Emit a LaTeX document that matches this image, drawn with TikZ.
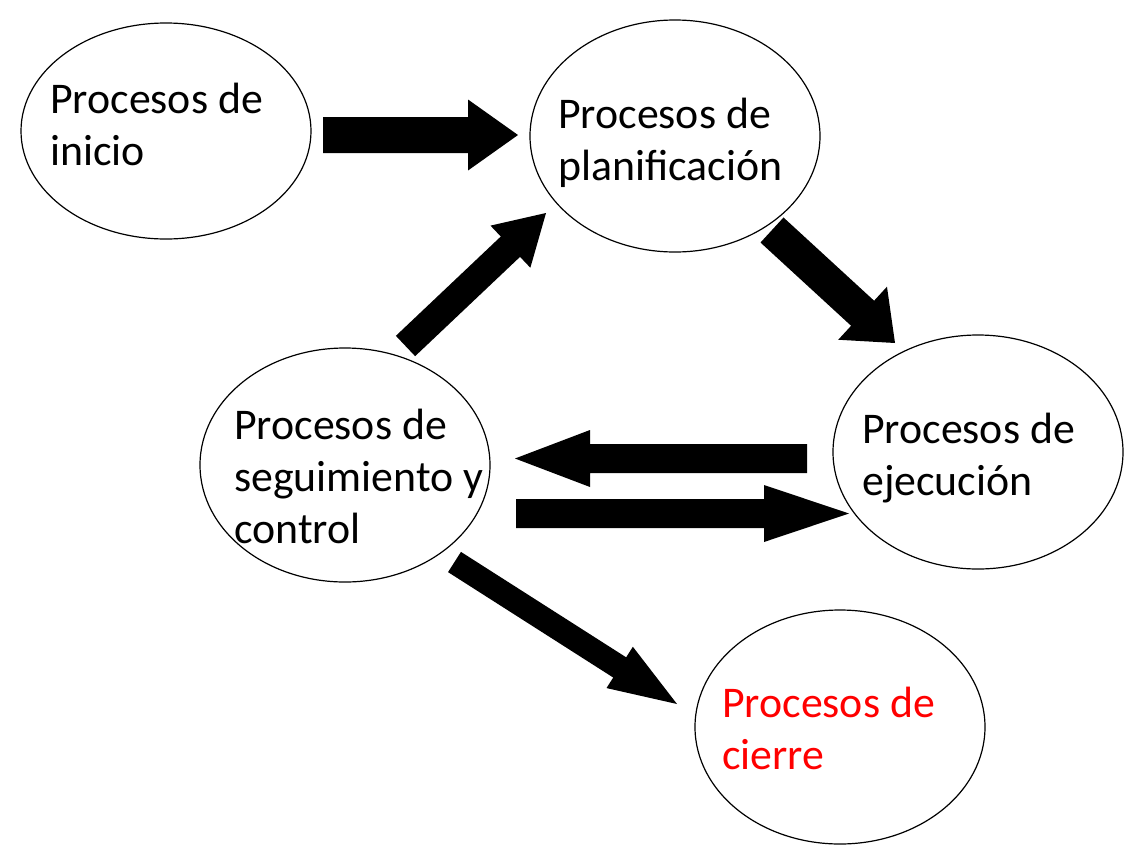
\documentclass[tikz,border=0pt]{standalone}
\usepackage{fontspec}
\setmainfont{Carlito}
\usetikzlibrary{calc}
\tikzset{
  proc/.style={draw=black, line width=1.3pt, ellipse, inner sep=0pt},
  lbl/.style={anchor=base west, inner sep=0pt, font=\fontsize{43.8}{52}\selectfont},
  blk/.style={fill=black, draw=none}
}
\newcommand\blockarr[5]{% tail, tip, half shaft, half head, head length
  \coordinate (#1-#2-b) at ($(#2)!#5!(#1)$);
  \fill[blk] ($(#1)!#3!90:(#2)$) -- ($(#1-#2-b)!#3!-90:(#1)$) -- ($(#1-#2-b)!#4!-90:(#1)$)
    -- (#2) -- ($(#1-#2-b)!#4!90:(#1)$) -- ($(#1-#2-b)!#3!90:(#1)$) -- ($(#1)!#3!-90:(#2)$) -- cycle;
}
\begin{document}
\begin{tikzpicture}[x=1pt,y=-1pt]
\useasboundingbox (0,0) rectangle (1144,860);
\fill[white] (0,0) rectangle (1144,860);
% ellipses
\draw[line width=1.2pt] (166,131) ellipse [x radius=145, y radius=108];
\node[inner sep=0pt] (ini) at (166,131) {};
\draw[line width=1.2pt] (675,136) ellipse [x radius=145, y radius=116];
\node[inner sep=0pt] (pla) at (675,136) {};
\draw[line width=1.2pt] (978,452) ellipse [x radius=145, y radius=117];
\node[inner sep=0pt] (eje) at (978,452) {};
\draw[line width=1.2pt] (345,465) ellipse [x radius=145, y radius=117];
\node[inner sep=0pt] (seg) at (345,465) {};
\draw[line width=1.2pt] (840,727) ellipse [x radius=145, y radius=117];
\node[inner sep=0pt] (cie) at (840,727) {};
% texts
\node[lbl] (ini-t) at (50,113) {\vtop{\hbox{Procesos de}\hbox{inicio}}};
\node[lbl] (pla-t) at (558,128) {\vtop{\hbox{Procesos de}\hbox{planificación}}};
\node[lbl] (eje-t) at (862,443) {\vtop{\hbox{Procesos de}\hbox{ejecución}}};
\node[lbl] (seg-t) at (234,439) {\vtop{\hbox{Procesos de}\hbox{seguimiento y}\hbox{control}}};
\node[lbl, text=red] (cie-t) at (722,717) {\vtop{\hbox{Procesos de}\hbox{cierre}}};
% arrow end points
\coordinate (a1t) at (323,135);   \coordinate (a1p) at (518,135);
\coordinate (a2t) at (772,230);   \coordinate (a2p) at (895,343);
\coordinate (a3t) at (405.5,346); \coordinate (a3p) at (546,213);
\coordinate (a4t) at (807,458.5); \coordinate (a4p) at (515,458.5);
\coordinate (a5t) at (516,513.5); \coordinate (a5p) at (849,513.5);
\coordinate (a6t) at (454.5,562); \coordinate (a6p) at (677,704);
\blockarr{a1t}{a1p}{18pt}{35.5pt}{50pt}
\blockarr{a2t}{a2p}{17pt}{36pt}{44pt}
\blockarr{a3t}{a3p}{14pt}{29pt}{49pt}
\blockarr{a4t}{a4p}{14.5pt}{28.5pt}{75pt}
\blockarr{a5t}{a5p}{14.5pt}{28.5pt}{85pt}
\blockarr{a6t}{a6p}{12pt}{24.5pt}{68pt}
\end{tikzpicture}
\end{document}
